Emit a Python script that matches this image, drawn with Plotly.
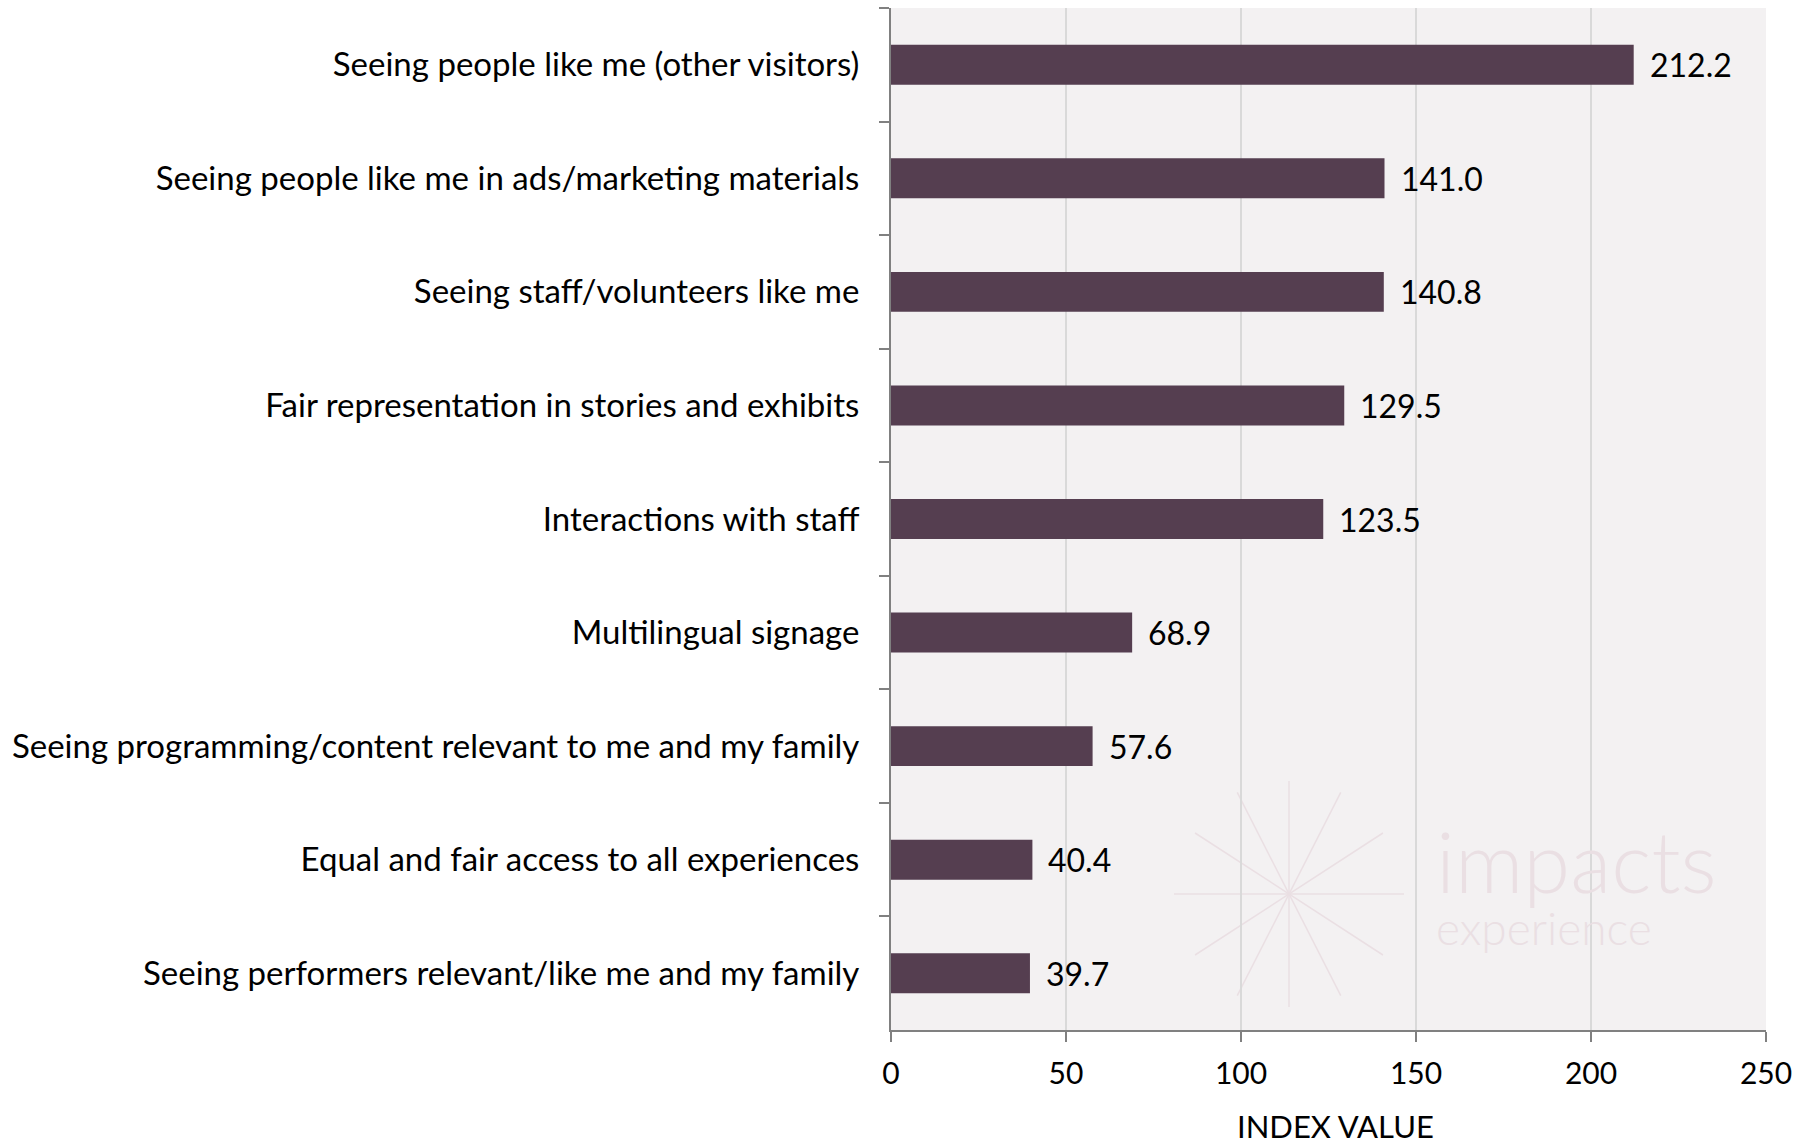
import math
import plotly.graph_objects as go

# Drivers of feeling welcome, ranked by index value
categories = [
    "Seeing people like me (other visitors)",
    "Seeing people like me in ads/marketing materials",
    "Seeing staff/volunteers like me",
    "Fair representation in stories and exhibits",
    "Interactions with staff",
    "Multilingual signage",
    "Seeing programming/content relevant to me and my family",
    "Equal and fair access to all experiences",
    "Seeing performers relevant/like me and my family",
]
index_values = [212.2, 141.0, 140.8, 129.5, 123.5, 68.9, 57.6, 40.4, 39.7]
x_ticks = [0, 50, 100, 150, 200, 250]
x_title = "INDEX VALUE"

W, H = 1808, 1146
M_L, M_R, M_T, M_B = 891, 42, 8, 116

BAR = "#553E50"
FONT = "Lato"
WM = "#EADFE3"

fig = go.Figure(
    go.Bar(
        x=index_values,
        y=categories,
        orientation="h",
        marker=dict(color=BAR, line=dict(width=0)),
        width=0.352,
        hoverinfo="x+y",
    )
)

# value labels just past the end of each bar
for cat, val in zip(categories, index_values):
    fig.add_annotation(
        x=val, y=cat, text=f"{val:.1f}", showarrow=False,
        xanchor="left", yanchor="middle", xshift=14,
        font=dict(family=FONT, size=32, color="#000000"),
    )

pw = W - M_L - M_R
ph = H - M_T - M_B


def to_paper(px, py):
    return (px - M_L) / pw, 1 - (py - M_T) / ph


# x-axis title sits low, near the bottom edge of the page
tx, ty = to_paper(1335, 1126)
fig.add_annotation(
    xref="paper", yref="paper", x=tx, y=ty, text=x_title,
    showarrow=False, xanchor="center", yanchor="middle",
    font=dict(family=FONT, size=31, color="#000000"),
)

# faint "impacts experience" watermark: a 12-ray star plus wordmark
cx, cy = 1289, 894
rays = [(0, 115), (90, 113), (33, 112), (-33, 112), (63, 114), (-63, 114)]
for ang, r in rays:
    a = math.radians(ang)
    dx, dy = r * math.cos(a), r * math.sin(a)
    x0, y0 = to_paper(cx - dx, cy - dy)
    x1, y1 = to_paper(cx + dx, cy + dy)
    fig.add_shape(
        type="line", xref="paper", yref="paper",
        x0=x0, y0=y0, x1=x1, y1=y1,
        line=dict(color=WM, width=1.5), layer="below",
    )

# base size sets the line spacing; each line carries its own size
wx, wy = to_paper(1434, 882)
fig.add_annotation(
    xref="paper", yref="paper", x=wx, y=wy,
    text=("<span style='font-size:85px'>impacts</span><br>"
          "<span style='font-size:46px'>experience</span>"),
    showarrow=False, xanchor="left", yanchor="middle", align="left",
    font=dict(family=FONT, size=40, color=WM, weight=300),
)

fig.update_layout(
    width=W, height=H,
    margin=dict(l=M_L, r=M_R, t=M_T, b=M_B, autoexpand=False),
    paper_bgcolor="#FFFFFF",
    plot_bgcolor="#F3F1F2",
    font=dict(family=FONT, size=30, color="#000000"),
    showlegend=False,
    xaxis=dict(
        range=[0, 250],
        tickvals=x_ticks,
        automargin=False,
        ticks="outside", ticklen=10, tickwidth=2, tickcolor="#808080",
        showline=True, linecolor="#808080", linewidth=2,
        showgrid=True, gridcolor="#D9D9D9", gridwidth=2,
        zeroline=False,
        tickfont=dict(size=30),
        ticklabelstandoff=6,
    ),
    yaxis=dict(
        autorange="reversed",
        automargin=False,
        tickson="boundaries",
        ticks="outside", ticklen=10, tickwidth=2, tickcolor="#808080",
        showline=True, linecolor="#808080", linewidth=2,
        showgrid=False, zeroline=False,
        tickfont=dict(size=33),
        ticklabelstandoff=23,
    ),
)

fig.write_html("out.html")
